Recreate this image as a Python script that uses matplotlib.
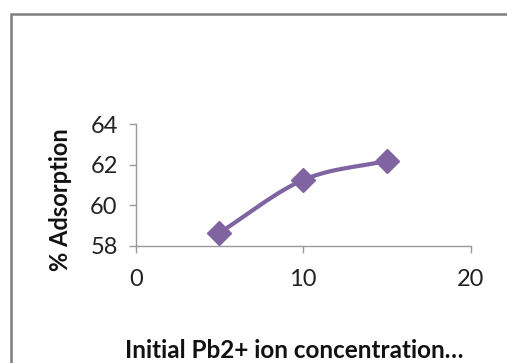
import numpy as np
import matplotlib
matplotlib.use("Agg")
import matplotlib.pyplot as plt
from matplotlib.patches import Rectangle

conc = [5, 10, 15]
adsorption = [58.64, 61.24, 62.19]
x_ticks = [0, 10, 20]
y_ticks = [58, 60, 62, 64]

purple = "#8064A2"
font = "Lato"

def catmull(xs, ys, n=30):
    pts = np.column_stack([xs, ys]).astype(float)
    P = np.vstack([2 * pts[0] - pts[1], pts, 2 * pts[-1] - pts[-2]])
    out = []
    for i in range(1, len(P) - 2):
        p0, p1, p2, p3 = P[i - 1], P[i], P[i + 1], P[i + 2]
        t = np.linspace(0, 1, n)[:, None]
        seg = 0.5 * ((2 * p1) + (-p0 + p2) * t + (2 * p0 - 5 * p1 + 4 * p2 - p3) * t**2
                     + (-p0 + 3 * p1 - 3 * p2 + p3) * t**3)
        out.append(seg)
    out = np.vstack(out)
    return out[:, 0], out[:, 1]

fig = plt.figure(figsize=(5.07, 3.63), dpi=100)
fig.patches.append(Rectangle((10.5 / 507, -0.1), 1.2, (363 - 13.5) / 363 + 0.1,
                             transform=fig.transFigure, fill=False,
                             edgecolor="#7f7f7f", linewidth=1.8))
ax = fig.add_axes([0.2677, 0.3231, 0.6607, 0.3353])
sx, sy = catmull(conc, adsorption)
ax.plot(sx, sy, color=purple, linewidth=3, solid_capstyle="round", zorder=2)
ax.plot(conc, adsorption, linestyle="none", marker="D", markersize=12,
        color=purple, zorder=3)
ax.set_xlim(0, 20)
ax.set_ylim(58, 64)
ax.set_xticks(x_ticks)
ax.set_yticks(y_ticks)
for s in ["top", "right"]:
    ax.spines[s].set_visible(False)
for s in ["left", "bottom"]:
    ax.spines[s].set_color("#999999")
    ax.spines[s].set_linewidth(1)
ax.tick_params(axis="both", colors="#999999", labelcolor="#222222", length=5,
               width=1, labelsize=17)
ax.tick_params(axis="x", pad=12)
ax.tick_params(axis="y", pad=8)
for lbl in ax.get_xticklabels() + ax.get_yticklabels():
    lbl.set_fontfamily(font)
fig.text(60 / 507, 1 - 200 / 363, "% Adsorption", rotation=90, ha="center",
         va="center", fontsize=17, fontweight="bold", family=font, color="#111111")
fig.text(294 / 507, 1 - 350 / 363, "Initial Pb2+ ion concentration…", ha="center",
         va="center", fontsize=17.5, fontweight="bold", family=font, color="#111111")
fig.savefig("out.png", dpi=100)
